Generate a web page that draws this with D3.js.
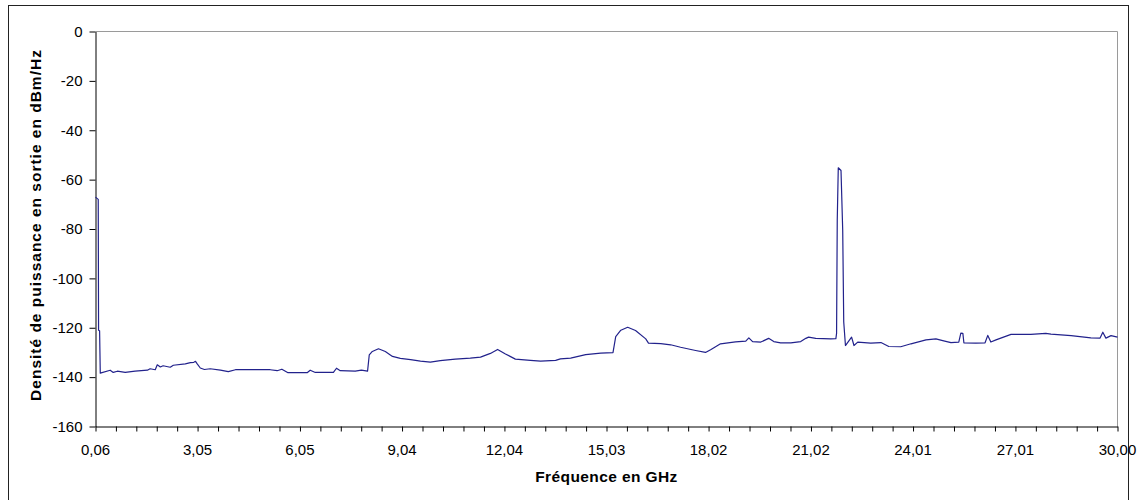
<!DOCTYPE html>
<html>
<head>
<meta charset="utf-8">
<script src="https://cdn.jsdelivr.net/npm/d3@7"></script>
<style>
  body { margin: 0; background: #fff; }
  text { font-family: "Liberation Sans", Arial, sans-serif; fill: #000; }
</style>
</head>
<body>
<script>
// Spectre de sortie (fréquence en GHz, densité en dBm/Hz)
const freq = [0.06, 0.14, 0.15, 0.18, 0.20, 0.49, 0.58, 0.70, 0.93, 1.22, 1.58, 1.66, 1.81, 1.87, 1.96, 2.04,
  2.25, 2.34, 2.69, 2.84, 2.94, 2.99, 3.04, 3.13, 3.25, 3.42, 3.72, 3.95, 4.16, 5.18, 5.38, 5.52, 5.70,
  6.26, 6.35, 6.50, 7.03, 7.12, 7.23, 7.67, 7.85, 8.03, 8.08, 8.17, 8.35, 8.55, 8.76, 8.99, 9.29, 9.58,
  9.87, 10.16, 10.60, 11.04, 11.34, 11.63, 11.84, 12.07, 12.36, 12.80, 13.10, 13.54, 13.68, 13.98, 14.42,
  14.86, 15.22, 15.30, 15.45, 15.65, 15.88, 16.18, 16.26, 16.62, 16.91, 17.20, 17.64, 17.93, 18.08, 18.37,
  18.81, 19.11, 19.20, 19.31, 19.55, 19.78, 19.93, 20.13, 20.43, 20.72, 20.87, 20.95, 21.16, 21.60, 21.75,
  21.77, 21.79, 21.82, 21.90, 21.95, 21.98, 22.03, 22.21, 22.28, 22.39, 22.77, 23.07, 23.30, 23.65, 23.95,
  24.39, 24.68, 24.88, 25.12, 25.35, 25.41, 25.47, 25.50, 25.85, 26.12, 26.20, 26.29, 26.44, 26.88, 27.46,
  27.90, 28.05, 28.64, 29.22, 29.49, 29.57, 29.66, 29.81, 30.00];
const dsp = [-67.1, -68.0, -121.0, -121.2, -138.4, -137.2, -138.1, -137.6, -138.1, -137.6, -137.2, -136.6, -137.0, -135.0, -135.9, -135.4,
  -136.0, -135.2, -134.6, -134.1, -134.0, -133.6, -134.6, -136.3, -136.9, -136.6, -137.2, -137.8, -137.0, -137.0, -137.4, -136.8, -138.2,
  -138.2, -137.2, -138.1, -138.1, -136.4, -137.4, -137.6, -137.2, -137.6, -131.0, -129.6, -128.5, -129.6, -131.6, -132.4, -132.9, -133.5,
  -133.9, -133.3, -132.7, -132.3, -131.9, -130.4, -128.8, -130.6, -132.7, -133.2, -133.5, -133.2, -132.6, -132.3, -130.9,
  -130.3, -130.1, -123.6, -121.0, -119.8, -121.1, -124.5, -126.2, -126.4, -126.9, -127.9, -129.2, -130.0, -128.9, -126.5,
  -125.7, -125.4, -124.1, -125.6, -125.8, -124.3, -125.6, -126.1, -126.1, -125.6, -124.3, -123.8, -124.3, -124.5, -124.4,
  -122.3, -76.5, -55.2, -56.3, -80.6, -117.7, -127.2, -123.8, -127.2, -125.8, -126.2, -126.0, -127.6, -127.7, -126.5,
  -124.9, -124.5, -125.2, -126.0, -125.8, -122.2, -122.3, -126.1, -126.2, -126.1, -123.1, -125.8, -124.9, -122.7, -122.7,
  -122.3, -122.6, -123.2, -124.1, -124.2, -121.8, -124.2, -123.2, -123.8];

const xTickLabels = ["0,06", "3,05", "6,05", "9,04", "12,04", "15,03", "18,02", "21,02", "24,01", "27,01", "30,00"];
const yTickValues = [-160, -140, -120, -100, -80, -60, -40, -20, 0];

const xTitle = "Fréquence en GHz";
const yTitle = "Densité de puissance en sortie en dBm/Hz";

const width = 1142, height = 500;
const plot = { left: 95.5, right: 1117.5, top: 31.5, bottom: 426.5 };

const svg = d3.select("body").append("svg")
    .attr("width", width)
    .attr("height", height);

// outer chart frame (bottom edge is off the picture)
svg.append("rect")
    .attr("x", 8.5).attr("y", 5.5)
    .attr("width", 1120).attr("height", 600)
    .attr("fill", "#fff")
    .attr("stroke", "#222")
    .attr("stroke-width", 1);

const xVals = xTickLabels.map(s => +s.replace(",", "."));

const x = d3.scaleLinear()
    .domain([xVals[0], xVals[xVals.length - 1]])
    .range([plot.left, plot.right]);

const y = d3.scaleLinear()
    .domain([-160, 0])
    .range([plot.bottom, plot.top]);

// plot area border (top/right grey)
svg.append("path")
    .attr("d", `M${plot.left},${plot.top}H${plot.right}V${plot.bottom}`)
    .attr("fill", "none")
    .attr("stroke", "#9a9a9a");

// minor ticks: 5 intervals between labelled ticks
const allTicks = [];
for (let i = 0; i < xVals.length - 1; i++) {
  for (let j = 0; j < 5; j++) allTicks.push(xVals[i] + (xVals[i + 1] - xVals[i]) * j / 5);
}
allTicks.push(xVals[xVals.length - 1]);

const xAxis = svg.append("g")
    .attr("transform", `translate(0,${plot.bottom})`)
    .call(d3.axisBottom(x).tickValues(allTicks).tickSize(5).tickSizeOuter(0).tickFormat(() => ""));
xAxis.select(".domain").attr("stroke", "#000");
xAxis.selectAll(".tick line").attr("stroke", "#000");

svg.append("g")
    .selectAll("text")
    .data(xTickLabels)
    .enter().append("text")
    .attr("x", (d, i) => x(xVals[i]))
    .attr("y", 455)
    .attr("text-anchor", "middle")
    .attr("font-size", "15px")
    .text(d => d);

const yAxis = svg.append("g")
    .attr("transform", `translate(${plot.left},0)`)
    .call(d3.axisLeft(y).tickValues(yTickValues).tickSize(6).tickSizeOuter(0).tickPadding(7)
      .tickFormat(d => String(d)));
yAxis.select(".domain").attr("stroke", "#000");
yAxis.selectAll(".tick line").attr("stroke", "#000");
yAxis.selectAll(".tick text")
    .attr("font-size", "15px")
    .attr("font-family", "'Liberation Sans', Arial, sans-serif")
    .attr("fill", "#000");

// spectrum line
const line = d3.line()
    .x((d, i) => x(freq[i]))
    .y(d => y(d));

svg.append("path")
    .datum(dsp)
    .attr("fill", "none")
    .attr("stroke", "#22228c")
    .attr("stroke-width", 1.2)
    .attr("stroke-linejoin", "round")
    .attr("d", line);

// axis titles
svg.append("text")
    .attr("x", (plot.left + plot.right) / 2)
    .attr("y", 482)
    .attr("text-anchor", "middle")
    .attr("font-size", "15.5px")
    .attr("font-weight", "bold")
    .attr("letter-spacing", "0.4px")
    .text(xTitle);

svg.append("text")
    .attr("transform", `translate(41,${(plot.top + plot.bottom) / 2 - 4}) rotate(-90)`)
    .attr("text-anchor", "middle")
    .attr("font-size", "15.5px")
    .attr("font-weight", "bold")
    .attr("letter-spacing", "1px")
    .text(yTitle);
</script>
</body>
</html>
